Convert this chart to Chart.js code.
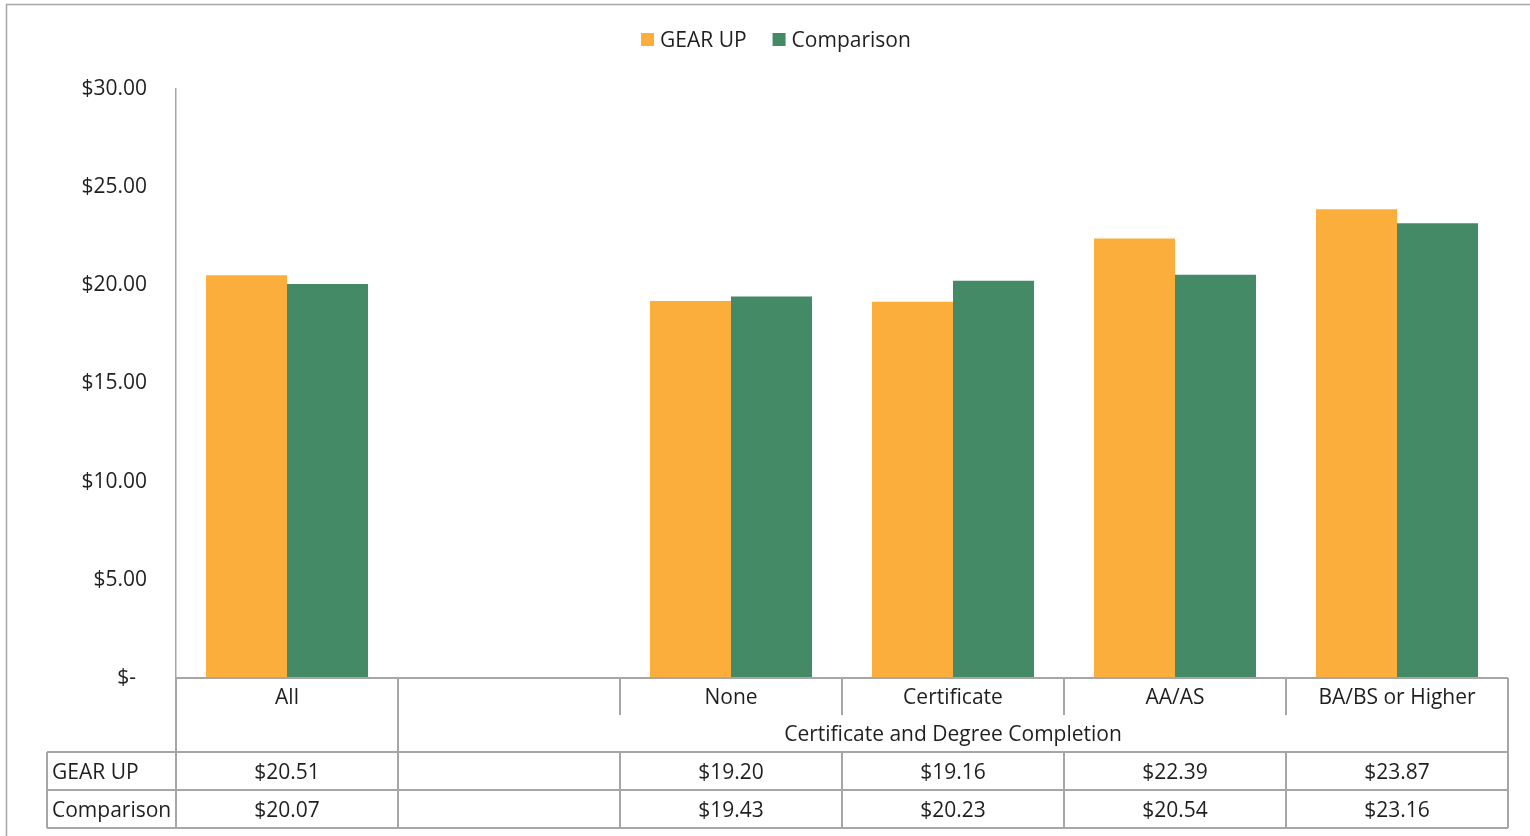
<!DOCTYPE html>
<html>
<head>
<meta charset="utf-8">
<script src="https://cdn.jsdelivr.net/npm/chart.js@4.4.1/dist/chart.umd.min.js"></script>
<style>
  html, body { margin: 0; padding: 0; background: #ffffff; }
  #wrap { width: 1530px; height: 836px; position: relative; }
</style>
</head>
<body>
<div id="wrap"><canvas id="wageChart" width="1530" height="836"></canvas></div>
<script>
// 图表数据
const categories = ['All', '', 'None', 'Certificate', 'AA/AS', 'BA/BS or Higher'];
const gearUpWages = [20.51, null, 19.20, 19.16, 22.39, 23.87];
const comparisonWages = [20.07, null, 19.43, 20.23, 20.54, 23.16];
const seriesNames = ['GEAR UP', 'Comparison'];
const groupLabel = 'Certificate and Degree Completion';
const groupStart = 1; // 分组从空白列开始
const yTickValues = [0, 5, 10, 15, 20, 25, 30];

const FONT = '"Open Sans", "Liberation Sans", sans-serif';
const FONT_SIZE = 21;
const TEXT_COLOR = '#1f1f1f';
const LINE_COLOR = '#a6a6a6';
const ORANGE = '#fbae3c';
const GREEN = '#458a66';

// 格式化金额
function money(v) {
    if (v === null || v === undefined) return '';
    if (v === 0) return '$-  ';
    return '$' + v.toFixed(2);
}

// 绘制外框、图例和数据表
const tablePlugin = {
    id: 'dataTable',
    afterDraw(chart) {
        const ctx = chart.ctx;
        const x = chart.scales.x;
        const area = chart.chartArea;
        const half = (x.getPixelForValue(1) - x.getPixelForValue(0)) / 2;
        const edges = categories.map((c, i) => x.getPixelForValue(i) - half);
        edges.push(x.getPixelForValue(categories.length - 1) + half);

        const rowTop = area.bottom;          // 分类标签行
        const tickBottom = rowTop + 37;
        const tableTop = rowTop + 74;        // 数据表开始
        const rowH = 38;
        const tableBottom = tableTop + rowH * 2;
        const labelLeft = 47;

        ctx.save();
        // 外框
        ctx.strokeStyle = LINE_COLOR;
        ctx.lineWidth = 1.5;
        ctx.beginPath();
        ctx.moveTo(6.5, 836);
        ctx.lineTo(6.5, 4.5);
        ctx.lineTo(1530, 4.5);
        ctx.stroke();

        // 图例
        ctx.font = FONT_SIZE + 'px ' + FONT;
        ctx.textBaseline = 'middle';
        ctx.textAlign = 'left';
        let lx = 641;
        chart.data.datasets.forEach(ds => {
            ctx.fillStyle = ds.backgroundColor;
            ctx.fillRect(lx, 33, 13, 13);
            ctx.fillStyle = TEXT_COLOR;
            ctx.fillText(ds.label, lx + 19, 41.5);
            lx += 19 + ctx.measureText(ds.label).width + 26;
        });

        // 表格线
        ctx.strokeStyle = LINE_COLOR;
        ctx.lineWidth = 2;
        ctx.beginPath();
        // 横线
        ctx.moveTo(edges[0], rowTop); ctx.lineTo(edges[edges.length - 1], rowTop);
        ctx.moveTo(labelLeft, tableTop); ctx.lineTo(edges[edges.length - 1], tableTop);
        ctx.moveTo(labelLeft, tableTop + rowH); ctx.lineTo(edges[edges.length - 1], tableTop + rowH);
        ctx.moveTo(labelLeft, tableBottom); ctx.lineTo(edges[edges.length - 1], tableBottom);
        // 竖线
        ctx.moveTo(labelLeft, tableTop); ctx.lineTo(labelLeft, tableBottom);
        edges.forEach((ex, i) => {
            const isGroupInner = i > groupStart && i < edges.length - 1;
            if (isGroupInner) {
                ctx.moveTo(ex, rowTop); ctx.lineTo(ex, tickBottom);
                ctx.moveTo(ex, tableTop); ctx.lineTo(ex, tableBottom);
            } else {
                ctx.moveTo(ex, rowTop); ctx.lineTo(ex, tableBottom);
            }
        });
        ctx.stroke();

        // 分类标签
        ctx.fillStyle = TEXT_COLOR;
        ctx.textAlign = 'center';
        categories.forEach((c, i) => {
            ctx.fillText(c, x.getPixelForValue(i), rowTop + 20.5);
        });
        // 分组标签
        const gMid = (edges[groupStart] + edges[edges.length - 1]) / 2;
        ctx.fillText(groupLabel, gMid, rowTop + 57.5);

        // 数据行
        const rows = [gearUpWages, comparisonWages];
        rows.forEach((vals, r) => {
            const cy = tableTop + rowH * r + rowH / 2 + 2;
            ctx.textAlign = 'left';
            ctx.fillText(seriesNames[r], labelLeft + 5, cy);
            ctx.textAlign = 'center';
            vals.forEach((v, i) => {
                ctx.fillText(money(v), x.getPixelForValue(i), cy);
            });
        });
        ctx.restore();
    }
};

const ctx = document.getElementById('wageChart').getContext('2d');
window.wageChart = new Chart(ctx, {
    type: 'bar',
    data: {
        labels: categories,
        datasets: [{
            label: seriesNames[0],
            data: gearUpWages,
            backgroundColor: ORANGE,
            categoryPercentage: 0.73,
            barPercentage: 1.0
        }, {
            label: seriesNames[1],
            data: comparisonWages,
            backgroundColor: GREEN,
            categoryPercentage: 0.73,
            barPercentage: 1.0
        }]
    },
    options: {
        responsive: false,
        animation: false,
        devicePixelRatio: 1,
        layout: {
            padding: { top: 89, bottom: 158, left: 0, right: 22 }
        },
        scales: {
            x: {
                display: false
            },
            y: {
                min: 0,
                max: 30,
                afterBuildTicks: function(scale) {
                    scale.ticks = yTickValues.map(v => ({ value: v }));
                },
                afterFit: function(scale) {
                    scale.width = 176;
                    scale.paddingTop = 0;
                    scale.paddingBottom = 0;
                },
                grid: { display: false },
                border: { display: true, color: LINE_COLOR, width: 1.5 },
                ticks: {
                    padding: 21,
                    color: TEXT_COLOR,
                    font: { family: FONT, size: FONT_SIZE },
                    callback: function(value) {
                        return money(value);
                    }
                }
            }
        },
        plugins: {
            legend: { display: false },
            tooltip: { enabled: false }
        }
    },
    plugins: [tablePlugin]
});
</script>
</body>
</html>
